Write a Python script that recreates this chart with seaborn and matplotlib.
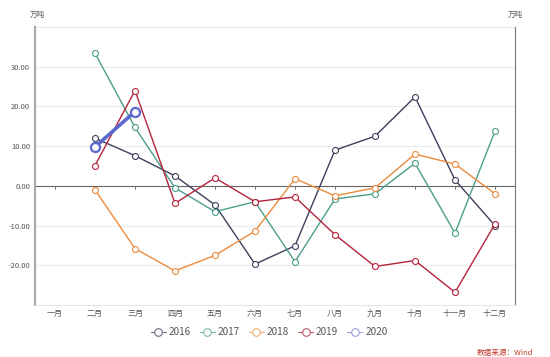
import numpy as np
import pandas as pd
import matplotlib
matplotlib.use("Agg")
import matplotlib.pyplot as plt
import seaborn as sns

months = ["一月", "二月", "三月", "四月", "五月", "六月", "七月", "八月", "九月", "十月", "十一月", "十二月"]
years = ["2016", "2017", "2018", "2019", "2020"]

v2016 = [np.nan, 12.0, 7.6, 2.5, -4.8, -19.7, -15.1, 9.0, 12.5, 22.4, 1.5, -10.0]
v2017 = [np.nan, 33.4, 14.7, -0.5, -6.5, -4.0, -19.1, -3.3, -2.0, 5.7, -11.9, 13.8]
v2018 = [np.nan, -1.0, -15.8, -21.4, -17.5, -11.4, 1.8, -2.5, -0.5, 8.0, 5.5, -2.0]
v2019 = [np.nan, 5.1, 24.0, -4.4, 2.0, -4.0, -2.8, -12.3, -20.3, -18.8, -26.8, -9.6]
v2020 = [np.nan, 9.8, 18.7] + [np.nan] * 9

colors = ["#3d3f5e", "#4b9e8c", "#e98b3c", "#b3233c", "#5b68cc"]
legend_colors = ["#6b6d80", "#7bbcae", "#eeae76", "#b8596b", "#9aa0d8"]

sns.set_style("white")
plt.rcParams['font.family'] = ['Noto Sans CJK SC', 'DejaVu Sans']

fig = plt.figure(figsize=(5.5, 3.57), dpi=100)
ax = fig.add_axes([35 / 550, 52 / 357, 480 / 550, 278 / 357])

x = np.arange(len(months))
series = [v2016, v2017, v2018, v2019, v2020]
for yr, vals, c in zip(years, series, colors):
    df = pd.DataFrame({"m": x, "v": vals}).dropna()
    big = yr == "2020"
    sns.lineplot(data=df, x="m", y="v", ax=ax, color=c,
                 linewidth=2.6 if big else 1.0,
                 marker="o", markersize=6.5 if big else 4.3,
                 markerfacecolor="white", markeredgecolor=c,
                 markeredgewidth=1.6 if big else 0.8, zorder=5 if big else 3)

ax.set_xlim(-0.5, 11.5)
ax.set_ylim(-30, 40)
ax.set_yticks([-20, -10, 0, 10, 20, 30])
ax.set_yticklabels([f"{t:.2f}" for t in [-20, -10, 0, 10, 20, 30]], fontsize=5.5, color="#555555")
ax.set_xticks(x)
ax.set_xticklabels(months, fontsize=5.8, color="#555555")
ax.set_xlabel("")
ax.set_ylabel("")
ax.tick_params(axis="x", length=0, pad=3)
ax.tick_params(axis="y", length=2, width=0.6, color="#888888", pad=1.5)

for t in [-20, -10, 10, 20, 30, 40]:
    ax.axhline(t, color="#ececec", linewidth=0.8, zorder=0)
ax.axhline(0, color="#666666", linewidth=0.8, zorder=1)
for xi in x:
    ax.plot([xi, xi], [0, -0.7], color="#666666", linewidth=0.6, zorder=1)

ax.spines["top"].set_visible(False)
ax.spines["left"].set_color("#aaaaaa")
ax.spines["left"].set_linewidth(1.6)
ax.spines["right"].set_color("#777777")
ax.spines["right"].set_linewidth(0.8)
ax.spines["bottom"].set_color("#e6e6e6")
ax.spines["bottom"].set_linewidth(0.8)

fig.text(37 / 550, 1 - 15 / 357, "万吨", fontsize=5.5, color="#555555", ha="center", va="center")
fig.text(515 / 550, 1 - 15 / 357, "万吨", fontsize=5.5, color="#555555", ha="center", va="center")

handles = [plt.Line2D([], [], color=c, linewidth=0.8, marker="o", markersize=5.5,
                      markerfacecolor="white", markeredgecolor=c, markeredgewidth=0.8)
           for c in legend_colors]
fig.legend(handles, years, loc="center", bbox_to_anchor=(269 / 550, 1 - 332 / 357),
           ncol=5, frameon=False, fontsize=7.2, handlelength=1.5, handletextpad=0.3,
           columnspacing=0.9, labelcolor="#555555")

fig.text(533 / 550, 1 - 353 / 357, "数据来源：Wind", fontsize=5.5, color="#c0392b",
         style="italic", ha="right", va="center")

fig.savefig("out.png", dpi=100)
